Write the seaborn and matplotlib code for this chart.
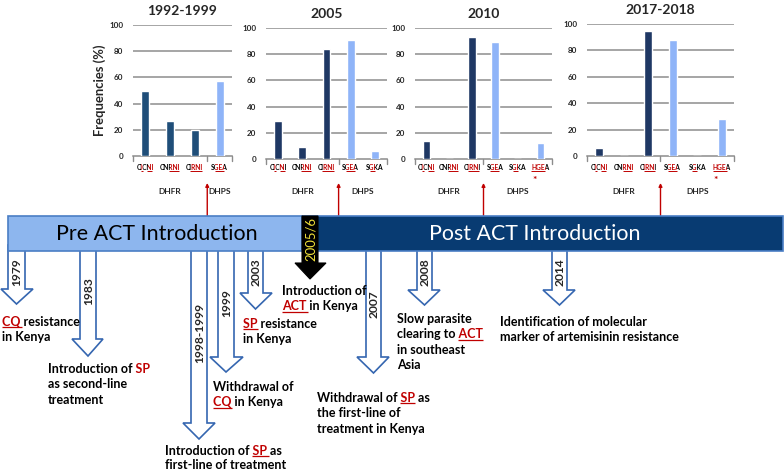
import numpy as np
import pandas as pd
import matplotlib
matplotlib.use("Agg")
import matplotlib.pyplot as plt
import seaborn as sns
from matplotlib.patches import Polygon, Rectangle

# ---------------- data ----------------
periods = ["1992-1999", "2005", "2010", "2017-2018"]

p1_mut = ["CICNI", "CNRNI", "CIRNI", "SGEA"]
p1_gene = ["DHFR", "DHFR", "DHFR", "DHPS"]
p1_freq = [50, 27, 20, 57]

p2_mut = ["CICNI", "CNRNI", "CIRNI", "SGEA", "SGKA"]
p2_gene = ["DHFR", "DHFR", "DHFR", "DHPS", "DHPS"]
p2_freq = [29, 9, 84, 91, 6]

p3_mut = ["CICNI", "CNRNI", "CIRNI", "SGEA", "SGKA", "HGEA"]
p3_gene = ["DHFR", "DHFR", "DHFR", "DHPS", "DHPS", "DHPS"]
p3_freq = [14, 0, 93, 89, 0, 12]

p4_mut = ["CICNI", "CNRNI", "CIRNI", "SGEA", "SGKA", "HGEA"]
p4_gene = ["DHFR", "DHFR", "DHFR", "DHPS", "DHPS", "DHPS"]
p4_freq = [6, 0, 95, 88, 0, 28]

# mutated positions (shown red & underlined)
mut_marks = {"CICNI": "01010", "CNRNI": "00110", "CIRNI": "01110",
             "SGEA": "0110", "SGKA": "0100", "HGEA": "1110"}

# timeline events
event_years = ["1979", "1983", "1998-1999", "1999", "2003", "2007", "2008", "2014"]

# ---------------- style ----------------
sns.set_style("white")
FONT = "Lato"
plt.rcParams["font.family"] = [FONT, "DejaVu Sans"]

W, H = 784, 472
fig = plt.figure(figsize=(W / 100, H / 100), dpi=100)
ax0 = fig.add_axes([0, 0, 1, 1], zorder=-1)
ax0.set_xlim(0, W)
ax0.set_ylim(H, 0)
ax0.axis("off")
R = fig.canvas.get_renderer()

RED = "#C00000"


def tw(s, size, weight="bold"):
    if not s:
        return 0.0
    t = ax0.text(0, 0, s, fontsize=size, fontweight=weight, family=FONT)
    w = t.get_window_extent(R).width
    t.remove()
    return w


def adv(s, size, weight="bold"):
    if not s:
        return 0.0
    return tw(s + "|", size, weight) - tw("|", size, weight)


def fit(s, target, weight="bold"):
    return 10 * target / tw(s, 10, weight)


def rich(x, y, segs, size, ha="left", weight="bold", zorder=3):
    """Draw one line of multi-coloured text; y is the line's vertical centre."""
    full = "".join(s for s, _, _ in segs)
    total = tw(full, size, weight)
    x0 = x - total / 2 if ha == "center" else x
    px = size * 100 / 72
    base = y + 0.36 * px
    prefix = ""
    starts = []
    for s, c, u in segs:
        if prefix.strip():
            starts.append(x0 + tw(prefix.rstrip(), size, weight) + 0.5)
        else:
            starts.append(x0 - 4)
        prefix += s
    ends = starts[1:] + [x0 + total + 4]
    prefix = ""
    for (s, c, u), a, b in zip(segs, starts, ends):
        t = ax0.text(x0, base, full, color=c, fontsize=size, fontweight=weight,
                     family=FONT, va="baseline", ha="left", zorder=zorder,
                     clip_on=True)
        clip = Rectangle((a, y - 2 * px), b - a, 4 * px, transform=ax0.transData)
        t.set_clip_path(clip)
        if u:
            ux0 = x0 + adv(prefix, size, weight)
            ux1 = x0 + tw((prefix + s).rstrip(), size, weight) + (2 if s.endswith(" ") else 0.3)
            ax0.plot([ux0, ux1], [base + 0.15 * px] * 2, color=c,
                     lw=max(0.7, size / 10), solid_capstyle="butt", zorder=zorder)
        prefix += s
    return x0, total


def mut_segs(m):
    segs = []
    for ch, k in zip(m, mut_marks[m]):
        red = k == "1"
        if segs and segs[-1][2] == red:
            segs[-1] = (segs[-1][0] + ch, segs[-1][1], red)
        else:
            segs.append((ch, RED if red else "black", red))
    return segs


# ---------------- bar panels ----------------
panels = [
    (p1_mut, p1_gene, p1_freq, (133, 25, 232, 156), "#1F4E79"),
    (p2_mut, p2_gene, p2_freq, (266, 28, 387, 159), "#1F3864"),
    (p3_mut, p3_gene, p3_freq, (415, 28, 552, 159), "#1F3864"),
    (p4_mut, p4_gene, p4_freq, (587, 24, 734, 156), "#1F3864"),
]
LIGHT = "#8FB4F8"

title_size = fit("1992-1999", 70)
tick_size = fit("CNRNI", 21)
ytick_size = fit("100", 14)
gene_size = fit("DHFR", 23)

boundary_px = []
for (mut, gene, freq, (l, t, r, b), dark), period in zip(panels, periods):
    ax = fig.add_axes([l / W, 1 - b / H, (r - l) / W, (b - t) / H])
    ax.set_facecolor("none")
    df = pd.DataFrame({"mutation": mut, "gene": gene, "freq": freq})
    sns.barplot(data=df, x="mutation", y="freq", hue="gene", order=mut,
                palette={"DHFR": dark, "DHPS": LIGHT}, dodge=False,
                width=0.32, ax=ax, legend=False, zorder=3, saturation=1)
    n = len(mut)
    ax.set_xlim(-0.5, n - 0.5)
    ax.set_ylim(0, 100)
    ax.set_yticks([0, 20, 40, 60, 80, 100])
    ax.set_yticklabels(["0", "20", "40", "60", "80", "100"],
                       fontsize=ytick_size, fontweight="bold", family=FONT)
    ax.tick_params(axis="y", length=0, pad=7)
    for yv in [20, 40, 60, 80, 100]:
        ax.axhline(yv, color="#969696", lw=1.2, zorder=1)
    for s in ["top", "right", "left"]:
        ax.spines[s].set_visible(False)
    ax.spines["bottom"].set_color("#8C8C8C")
    ax.spines["bottom"].set_linewidth(1.1)
    ax.set_xticks([])
    ax.set_xlabel("")
    ax.set_ylabel("")
    ax.set_title(period, fontsize=title_size, fontweight="bold", family=FONT, pad=7)

    def tox(xv):
        return ax0.transData.inverted().transform(ax.transData.transform((xv, 0)))[0]

    nd = gene.count("DHFR")
    for xb in [-0.5, nd - 0.5, n - 0.5]:
        xp = tox(xb)
        ax0.plot([xp, xp], [b, b + 5], color="#8C8C8C", lw=1.0)
    for i, m in enumerate(mut):
        lx0, lw_ = rich(tox(i), 168, mut_segs(m), tick_size, ha="center")
        if m == "HGEA":
            ax0.text(lx0 + 3, 180.5, "*", color=RED, fontsize=tick_size * 1.5,
                     fontweight="bold", ha="center", va="center")
    dh = np.mean([i for i, g in enumerate(gene) if g == "DHFR"])
    dp = np.mean([i for i, g in enumerate(gene) if g == "DHPS"])
    ax0.text(tox(dh), 192, "DHFR", fontsize=gene_size, fontweight="bold",
             ha="center", va="center")
    ax0.text(tox(dp), 192, "DHPS", fontsize=gene_size, fontweight="bold",
             ha="center", va="center")
    boundary_px.append(tox(nd - 0.5))

ax0.text(100, 90, "Frequencies (%)", rotation=90, fontsize=fit("Frequencies (%)", 92),
         fontweight="bold", ha="center", va="center")

# red arrows from timeline to the panels
for xp in boundary_px:
    ax0.annotate("", xy=(xp, 183), xytext=(xp, 216),
                 arrowprops=dict(arrowstyle="-|>", color=RED, lw=1.0,
                                 mutation_scale=5, shrinkA=0, shrinkB=0))

# ---------------- hollow event arrows ----------------
ARW = "#3566B0"
# (shaft left, shaft right, head left, head right, shaft bottom, tip, label centre y)
geom = [
    (8, 25, 1, 33, 289, 304, 272),
    (80, 96, 72, 103, 339, 356, 291),
    (191, 207, 183, 215, 423, 439, 333),
    (218, 234, 210, 243, 357, 372, 303),
    (248, 263, 240, 272, 293, 309, 272),
    (366, 381, 357, 389, 357, 373, 304),
    (417, 432, 408, 440, 290, 305, 272),
    (552, 567, 543, 575, 290, 305, 272),
]
year_size = fit("1979", 28)
for yr, (x0, x1, h0, h1, sb, tip, ly) in zip(event_years, geom):
    xc = (x0 + x1) / 2
    pts = [(x0, 245), (x1, 245), (x1, sb), (h1, sb), (xc, tip), (h0, sb), (x0, sb)]
    ax0.add_patch(Polygon(pts, closed=True, facecolor="white", edgecolor=ARW,
                          lw=1.2, zorder=1))
    ax0.text(xc + 0.5, ly, yr, rotation=90, fontsize=year_size, fontweight="bold",
             ha="center", va="center", zorder=2)

# ---------------- timeline bar ----------------
ax0.add_patch(Rectangle((8, 216), 302 - 8, 35, facecolor="#8DB6EE",
                        edgecolor="#4A7EC5", lw=1.2, zorder=3))
ax0.add_patch(Rectangle((302, 216), 783 - 302, 35, facecolor="#083B72",
                        edgecolor="#4A7EC5", lw=1.2, zorder=3))
big = fit("Pre ACT Introduction", 201, "normal")
ax0.text(157, 234, "Pre ACT Introduction", fontsize=big, color="black",
         ha="center", va="center", zorder=4)
ax0.text(535, 234, "Post ACT Introduction", fontsize=big, color="white",
         ha="center", va="center", zorder=4)

# 2005/6 black arrow
ax0.add_patch(Polygon([(302, 216), (318, 216), (318, 263), (326, 263), (310, 279),
                       (295, 263), (302, 263)], closed=True, facecolor="black",
                      edgecolor="black", lw=0.8, zorder=5))
ax0.text(310.5, 239, "2005/6", rotation=90, color="#F2E33A",
         fontsize=fit("2005/6", 44, "normal"), ha="center", va="center", zorder=6)

# ---------------- annotation texts ----------------
A = fit("Identification of molecular", 148)
K = "black"
LH = 15.6
notes = [
    (2, 321, [[("CQ ", RED, True), ("resistance", K, False)],
              [("in Kenya", K, False)]]),
    (48, 368, [[("Introduction of ", K, False), ("SP", RED, False)],
               [("as second-line", K, False)],
               [("treatment", K, False)]]),
    (282, 290, [[("Introduction of", K, False)],
                [("ACT ", RED, True), ("in Kenya", K, False)]]),
    (243, 323, [[("SP", RED, True), (" resistance", K, False)],
                [("in Kenya", K, False)]]),
    (213, 386, [[("Withdrawal of", K, False)],
                [("CQ", RED, True), (" in Kenya", K, False)]]),
    (165, 450, [[("Introduction of ", K, False), ("SP ", RED, True), ("as", K, False)],
                [("first-line of treatment", K, False)]]),
    (317, 397, [[("Withdrawal of ", K, False), ("SP", RED, True), (" as", K, False)],
                [("the first-line of", K, False)],
                [("treatment in Kenya", K, False)]]),
    (397, 318, [[("Slow parasite", K, False)],
                [("clearing to ", K, False), ("ACT", RED, True)],
                [("in southeast", K, False)],
                [("Asia", K, False)]]),
    (500, 321, [[("Identification of molecular", K, False)],
                [("marker of artemisinin resistance", K, False)]]),
]
for x, y, lines in notes:
    lh = LH if y != 450 else 14.5
    for k, segs in enumerate(lines):
        rich(x, y + k * lh, segs, A)

fig.savefig("out.png", dpi=100)
